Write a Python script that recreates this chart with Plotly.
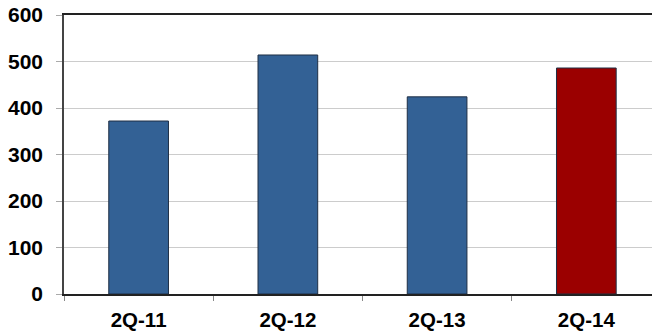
import plotly.graph_objects as go

quarters = ["2Q-11", "2Q-12", "2Q-13", "2Q-14"]
values = [372, 514, 424, 486]
bar_colors = ["#336195", "#336195", "#336195", "#9b0000"]
y_ticks = [0, 100, 200, 300, 400, 500, 600]

fig = go.Figure(
    go.Bar(
        x=quarters,
        y=values,
        width=0.40,
        marker=dict(color=bar_colors, line=dict(color="#1f2f45", width=1)),
    )
)

fig.update_layout(
    width=652,
    height=333,
    margin=dict(l=64, r=0, t=15, b=39),
    paper_bgcolor="white",
    plot_bgcolor="white",
    showlegend=False,
    font=dict(family="Liberation Sans, Arial, sans-serif", size=20, color="black"),
)

fig.update_xaxes(
    type="category",
    range=[-0.5, 3.44],
    showline=True,
    mirror=True,
    linecolor="#222222",
    linewidth=1.5,
    ticks="outside",
    tickson="boundaries",
    ticklen=5,
    tickcolor="#888888",
    tickfont=dict(size=20.5, family="Liberation Sans, Arial, sans-serif", weight="bold"),
    ticklabelstandoff=7,
    showgrid=False,
)

fig.update_yaxes(
    range=[0, 600],
    tickvals=y_ticks,
    showline=True,
    linecolor="#444444",
    linewidth=1.5,
    ticks="outside",
    ticklen=6,
    tickcolor="#aaaaaa",
    showgrid=True,
    gridcolor="#cccccc",
    gridwidth=1,
    zeroline=False,
    tickfont=dict(size=21, family="Liberation Sans, Arial, sans-serif", weight="bold"),
    ticklabelstandoff=9,
)

fig.write_html("out.html")
